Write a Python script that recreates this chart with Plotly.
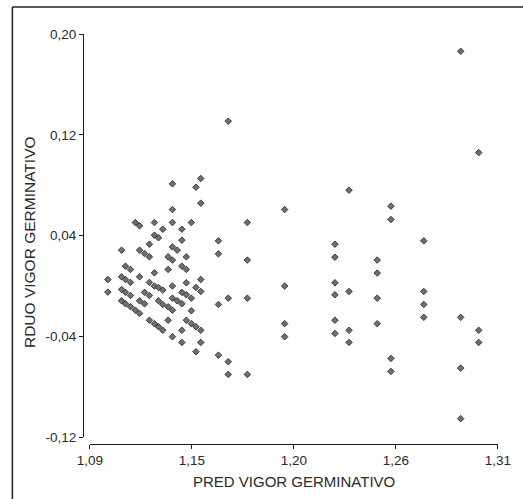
import plotly.graph_objects as go

# Predicted values (x) and residuals (y) of germination vigor
pred = [
    1.0997, 1.0997,
    1.1071, 1.1071, 1.1071, 1.1071,
    1.1092, 1.1092, 1.1092, 1.1092,
    1.1119, 1.1119, 1.1119, 1.1119,
    1.1145, 1.1145,
    1.1168, 1.1168, 1.1168, 1.1168, 1.1168,
    1.1195, 1.1195, 1.1195,
    1.1221, 1.1221, 1.1221, 1.1221, 1.1221,
    1.1248, 1.1248, 1.1248, 1.1248, 1.1248,
    1.1270, 1.1270, 1.1270, 1.1270,
    1.1293, 1.1293, 1.1293, 1.1293,
    1.1322, 1.1322, 1.1322, 1.1322,
    1.1345, 1.1345, 1.1345, 1.1345, 1.1345, 1.1345, 1.1345, 1.1345, 1.1345,
    1.1371, 1.1371,
    1.1396, 1.1396, 1.1396, 1.1396, 1.1396, 1.1396, 1.1396,
    1.1420, 1.1420, 1.1420, 1.1420, 1.1420,
    1.1447, 1.1447, 1.1447, 1.1447,
    1.1472, 1.1472, 1.1472, 1.1472,
    1.1498, 1.1498, 1.1498, 1.1498, 1.1498, 1.1498,
    1.1593, 1.1593, 1.1593, 1.1593,
    1.1646, 1.1646, 1.1646, 1.1646,
    1.1749, 1.1749, 1.1749, 1.1749,
    1.1950, 1.1950, 1.1950, 1.1950,
    1.2221, 1.2221, 1.2221, 1.2221, 1.2221, 1.2221,
    1.2297, 1.2297, 1.2297, 1.2297,
    1.2449, 1.2449, 1.2449, 1.2449,
    1.2523, 1.2523, 1.2523, 1.2523,
    1.2700, 1.2700, 1.2700, 1.2700,
    1.2899, 1.2899, 1.2899, 1.2899,
    1.2996, 1.2996, 1.2996,
]

resid = [
    0.0052, -0.0048,
    0.0285, 0.0073, -0.0027, -0.0117,
    0.0158, 0.0052, -0.0050, -0.0141,
    0.0132, 0.0029, -0.0075, -0.0164,
    0.0504, -0.0191,
    0.0478, 0.0285, 0.0073, -0.0117, -0.0217,
    0.0258, -0.0050, -0.0141,
    0.0332, 0.0232, 0.0029, -0.0075, -0.0271,
    0.0504, 0.0404, 0.0105, 0.0000, -0.0298,
    0.0383, -0.0011, -0.0117, -0.0323,
    0.0451, -0.0032, -0.0146, -0.0351,
    0.0232, 0.0132, -0.0164, -0.0271,
    0.0811, 0.0607, 0.0504, 0.0311, 0.0206, 0.0000, -0.0096, -0.0191, -0.0402,
    0.0285, -0.0117,
    0.0451, 0.0364, 0.0158, -0.0050, -0.0141, -0.0351, -0.0447,
    0.0232, 0.0132, 0.0026, -0.0069, -0.0271,
    0.0504, -0.0096, -0.0196, -0.0298,
    0.0784, -0.0011, -0.0323, -0.0521,
    0.0853, 0.0658, 0.0052, -0.0043, -0.0351, -0.0447,
    0.0359, 0.0256, -0.0146, -0.0548,
    0.1308, -0.0096, -0.0600, -0.0701,
    0.0504, 0.0206, -0.0096, -0.0701,
    0.0607, 0.0000, -0.0298, -0.0402,
    0.0332, 0.0229, 0.0026, -0.0069, -0.0271, -0.0376,
    0.0761, -0.0043, -0.0351, -0.0447,
    0.0206, 0.0103, -0.0096, -0.0298,
    0.0634, 0.0528, -0.0574, -0.0677,
    0.0359, -0.0043, -0.0146, -0.0248,
    0.1863, -0.0248, -0.0651, -0.1052,
    0.1059, -0.0351, -0.0447,
]

x_tickvals = [1.09, 1.145, 1.20, 1.255, 1.31]
x_ticktext = ["1,09", "1,15", "1,20", "1,26", "1,31"]
y_tickvals = [0.20, 0.12, 0.04, -0.04, -0.12]
y_ticktext = ["0,20", "0,12", "0,04", "-0,04", "-0,12"]

FONT = "Liberation Sans, Arial, sans-serif"
TXT = "#2a2a2a"

fig = go.Figure(
    go.Scatter(
        x=pred,
        y=resid,
        mode="markers",
        marker=dict(
            symbol="diamond",
            size=5,
            color="#707070",
            line=dict(color="#2e2e2e", width=0.9),
        ),
        hoverinfo="skip",
    )
)

axis_common = dict(
    showgrid=False,
    zeroline=False,
    showline=True,
    linecolor="#1e1e1e",
    linewidth=1,
    ticks="outside",
    ticklen=4,
    tickwidth=1,
    tickcolor="#1e1e1e",
    tickfont=dict(family=FONT, size=13.5, color=TXT),
)

fig.update_layout(
    width=523,
    height=499,
    margin=dict(l=83, r=17, t=34, b=55),
    paper_bgcolor="white",
    plot_bgcolor="white",
    showlegend=False,
    xaxis=dict(
        range=[1.09, 1.31],
        domain=[0.0165, 1],
        anchor="free",
        position=0,
        tickmode="array",
        tickvals=x_tickvals,
        ticktext=x_ticktext,
        **axis_common,
    ),
    yaxis=dict(
        range=[-0.12, 0.20],
        domain=[0.0163, 1],
        anchor="free",
        position=0,
        tickmode="array",
        tickvals=y_tickvals,
        ticktext=y_ticktext,
        **axis_common,
    ),
    annotations=[
        dict(
            text="PRED VIGOR GERMINATIVO",
            xref="paper", yref="paper",
            x=0.5076, y=-0.0915,
            xanchor="center", yanchor="middle",
            showarrow=False,
            font=dict(family=FONT, size=15, color=TXT),
        ),
        dict(
            text="RDUO VIGOR GERMINATIVO",
            xref="paper", yref="paper",
            x=-0.1288, y=0.4915,
            xanchor="center", yanchor="middle",
            textangle=-90,
            showarrow=False,
            font=dict(family=FONT, size=15.5, color=TXT),
        ),
    ],
    shapes=[
        # outer frame: left and top edges
        dict(type="line", xref="paper", yref="paper",
             x0=-0.1702, x1=-0.1702, y0=1.0659, y1=-0.2,
             line=dict(color="#222222", width=1.5)),
        dict(type="line", xref="paper", yref="paper",
             x0=-0.1702, x1=1.1, y0=1.0659, y1=1.0659,
             line=dict(color="#222222", width=1.5)),
    ],
)

fig.write_html("out.html")
